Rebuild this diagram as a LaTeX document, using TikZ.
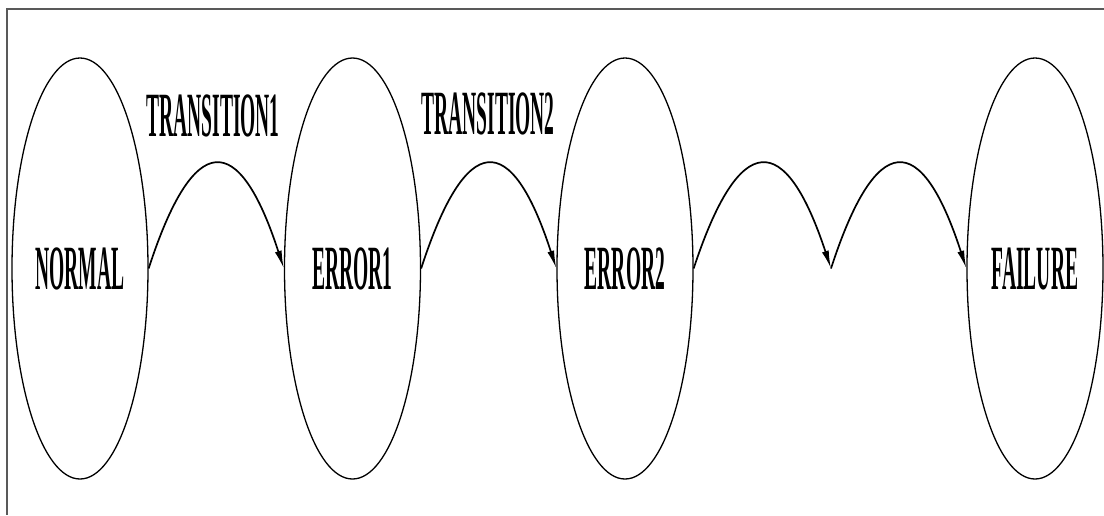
\documentclass[tikz,border=0pt]{standalone}
\usepackage{fontspec}
\setmainfont{Liberation Serif}
\usetikzlibrary{shapes.geometric,arrows.meta,calc}
\newcommand{\condtxt}[1]{\scalebox{0.31}[1]{\fontsize{63}{63}\selectfont\bfseries #1}}
\begin{document}
\begin{tikzpicture}[x=1pt,y=-1pt,
  state/.style={draw=black,line width=1.3pt,ellipse,minimum width=136pt,minimum height=421pt,inner sep=0pt},
  trans/.style={draw=black,line width=1.7pt,-{Latex[length=18pt,width=7pt]}},
  tlabel/.style={inner sep=0pt},
  frameline/.style={draw=black!65,line width=1.2pt}]
\useasboundingbox (0,0) rectangle (1104,515);
\coordinate (ftr) at (1104,9);
\coordinate (ftl) at (7,9);
\coordinate (fbl) at (7,515);
\draw[frameline] (ftr) -- (ftl) -- (fbl);
\node[state] (n) at (80,268.5) {\condtxt{NORMAL}};
\node[state] (e1) at (352.5,268.5) {\condtxt{ERROR1}};
\node[state] (e2) at (625,268.5) {\condtxt{ERROR2}};
\node[state] (f) at (1035,268.5) {\condtxt{FAILURE}};
\coordinate (mid) at (831,268.5);
\node[tlabel] (t1) at (213,116) {\condtxt{TRANSITION1}};
\node[tlabel] (t2) at (488,114) {\condtxt{TRANSITION2}};
\draw[trans] (n.east) .. controls ($(n.east)!1/3!(e1.west)+(0,-139)$) and ($(n.east)!2/3!(e1.west)+(0,-139)$) .. (e1.west);
\draw[trans] (e1.east) .. controls ($(e1.east)!1/3!(e2.west)+(0,-139)$) and ($(e1.east)!2/3!(e2.west)+(0,-139)$) .. (e2.west);
\draw[trans] (e2.east) .. controls ($(e2.east)!1/3!(mid)+(0,-139)$) and ($(e2.east)!2/3!(mid)+(0,-139)$) .. (mid);
\draw[trans] (mid) .. controls ($(mid)!1/3!(f.west)+(0,-139)$) and ($(mid)!2/3!(f.west)+(0,-139)$) .. (f.west);
\end{tikzpicture}
\end{document}
